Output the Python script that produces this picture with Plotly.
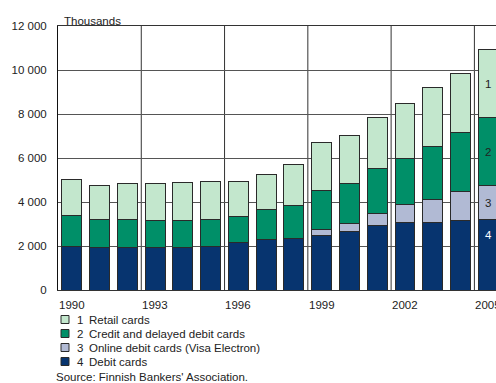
import plotly.graph_objects as go

# Payment cards in Finland, thousands
years = list(range(1990, 2006))
debit = [2000, 1950, 1940, 1910, 1950, 1970, 2160, 2300, 2350, 2480, 2680, 2920, 3070, 3070, 3170, 3210]
online = [0, 0, 0, 0, 0, 0, 0, 0, 0, 270, 350, 560, 820, 1060, 1300, 1530]
credit = [1390, 1240, 1260, 1230, 1210, 1240, 1200, 1350, 1500, 1770, 1800, 2030, 2090, 2390, 2710, 3080]
retail = [1620, 1560, 1640, 1710, 1730, 1740, 1580, 1590, 1850, 2180, 2200, 2330, 2490, 2670, 2680, 3090]

series_names = ["4  Debit cards", "3  Online debit cards (Visa Electron)",
                "2  Credit and delayed debit cards", "1  Retail cards"]
series_values = [debit, online, credit, retail]
colors = ["#07346f", "#b1bad4", "#008f68", "#c3e7cd"]

tick_years = [1990, 1993, 1996, 1999, 2002, 2005]
y_ticks = [0, 2000, 4000, 6000, 8000, 10000, 12000]

FONT = "Liberation Sans, Arial, sans-serif"
TXT = "#222222"
FS = 11.5

fig = go.Figure()
for name, vals, col in zip(series_names, series_values, colors):
    fig.add_trace(go.Bar(
        x=years, y=vals, name=name,
        marker=dict(color=col, line=dict(color="#2a2a2a", width=1)),
        width=0.72,
    ))

# vertical grid lines every third year
shapes = []
for b in [1992.5, 1995.5, 1998.5, 2001.5, 2004.5]:
    shapes.append(dict(type="line", xref="x", yref="y", x0=b, x1=b, y0=0, y1=12000,
                       line=dict(color="#333333", width=1), layer="below"))

annotations = [dict(xref="paper", yref="paper", x=4 / 438, y=1.0, xanchor="left", yanchor="bottom",
                    yshift=-3, text="Thousands", showarrow=False,
                    font=dict(size=FS, color=TXT, family=FONT))]

# year labels (the last one runs off the right edge of the page)
for yr in tick_years:
    annotations.append(dict(xref="x", yref="paper", x=yr, y=0, yanchor="top", yshift=-7,
                            text=str(yr), showarrow=False,
                            font=dict(size=FS, color=TXT, family=FONT)))

# segment numbers in the last bar
last = len(years) - 1
seg_y = [2500,
         debit[last] + online[last] / 2,
         debit[last] + online[last] + credit[last] / 2,
         debit[last] + online[last] + credit[last] + retail[last] / 2]
seg_txt = ["4", "3", "2", "1"]
seg_col = ["white", TXT, TXT, TXT]
for t, yv, c in zip(seg_txt, seg_y, seg_col):
    annotations.append(dict(x=years[last], y=yv, text=t, showarrow=False,
                            font=dict(size=FS, color=c, family=FONT)))

# legend drawn below the chart
W, H = 496, 383
legend_order = [3, 2, 1, 0]
for i, idx in enumerate(legend_order):
    yc = 319.5 + 14 * i
    shapes.append(dict(type="rect", xref="paper", yref="paper",
                       x0=(61 - 58) / 438, x1=(69 - 58) / 438,
                       y0=(290 - yc - 4) / 264, y1=(290 - yc + 4) / 264,
                       fillcolor=colors[idx], line=dict(color="#2a2a2a", width=1)))
    num, label = series_names[idx].split("  ", 1)
    annotations.append(dict(xref="paper", yref="paper", x=(75 - 58) / 438, y=(290 - yc) / 264,
                            xanchor="left", yanchor="middle", text=num, showarrow=False,
                            font=dict(size=FS, color=TXT, family=FONT)))
    annotations.append(dict(xref="paper", yref="paper", x=(87 - 58) / 438, y=(290 - yc) / 264,
                            xanchor="left", yanchor="middle", text=label, showarrow=False,
                            font=dict(size=FS, color=TXT, family=FONT)))
annotations.append(dict(xref="paper", yref="paper", x=(54 - 58) / 438, y=(290 - 377) / 264,
                        xanchor="left", yanchor="middle", text="Source: Finnish Bankers' Association.",
                        showarrow=False, font=dict(size=FS, color=TXT, family=FONT)))

fig.update_layout(
    width=W, height=H,
    margin=dict(l=58, r=0, t=26, b=93),
    barmode="stack",
    showlegend=False,
    plot_bgcolor="white", paper_bgcolor="white",
    separators=". ",
    font=dict(family=FONT, size=FS, color=TXT),
    shapes=shapes, annotations=annotations,
    xaxis=dict(range=[1989.5, 1989.5 + 438 / 27.76], tickvals=tick_years,
               showticklabels=False, showgrid=False,
               showline=True, linecolor="#333333", linewidth=1, mirror=True,
               ticks="", zeroline=False),
    yaxis=dict(range=[0, 12000], tickvals=y_ticks, tickformat=",d",
               showgrid=True, gridcolor="#555555", gridwidth=1,
               showline=True, linecolor="#111111", linewidth=1,
               ticks="", ticklabelstandoff=8, zeroline=False),
)

fig.write_html("out.html")
